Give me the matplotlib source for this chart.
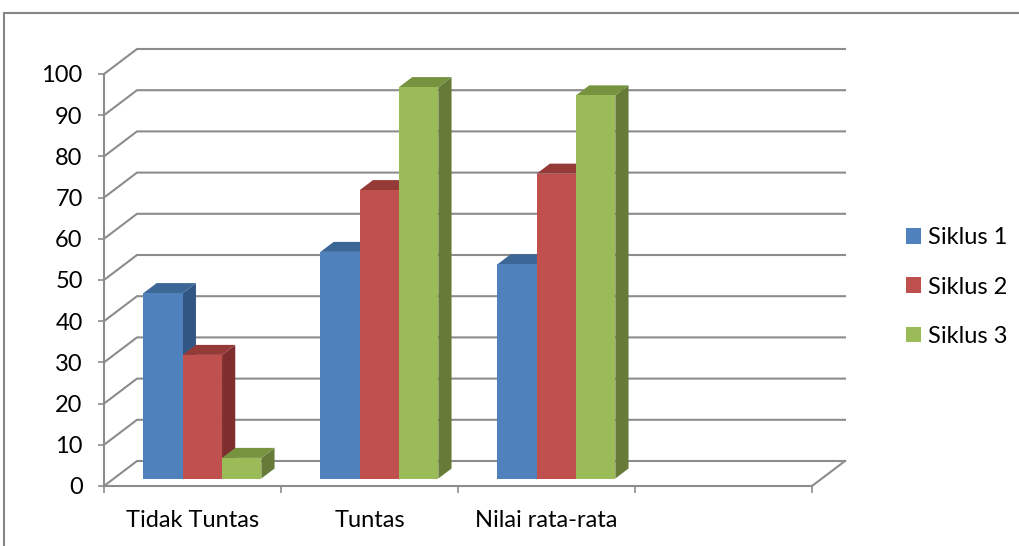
import numpy as np
import matplotlib
matplotlib.use("Agg")
import matplotlib.pyplot as plt
from matplotlib.patches import Polygon, Rectangle

# Calibri-like look (Carlito is derived from Lato)
plt.rcParams["font.family"] = ["Lato", "DejaVu Sans"]

categories = ["Tidak Tuntas", "Tuntas", "Nilai rata-rata", ""]
series = ["Siklus 1", "Siklus 2", "Siklus 3"]
siklus1 = [45, 55, 52]
siklus2 = [30, 70, 74]
siklus3 = [5, 95, 93]
yticks = list(range(0, 101, 10))

FRONT = ["#4F81BD", "#C0504D", "#9BBB59"]
TOP   = ["#3C6696", "#963A38", "#78933F"]
SIDE  = ["#325683", "#7E2F2D", "#667B37"]
GRID  = "#8C8C8C"
FS = 17

W, H = 1020, 546
DX = 33 / 177.0       # profondita' della parete (unita' categoria)
DY = 25 / 4.12        # profondita' della parete (unita' valore)
F0, F1 = 0.3, 0.7     # posizione delle barre in profondita'
BW = 0.222            # larghezza barra

fig = plt.figure(figsize=(W / 100, H / 100), dpi=100, facecolor="white")
ax = fig.add_axes([104 / W, 60 / H, 708 / W, 412 / H])
ax.set_xlim(-0.5, 3.5)
ax.set_ylim(0, 100)
ax.patch.set_alpha(0)

# parete sinistra + parete di fondo (griglia)
xl, xr = -0.5, len(categories) - 0.5
for v in yticks:
    ax.plot([xl, xl + DX, xr + DX], [v, v + DY, v + DY], color=GRID, lw=1.5,
            clip_on=False, zorder=1, solid_joinstyle="miter")
ax.plot([xr, xr + DX], [0, DY], color=GRID, lw=1.5, clip_on=False, zorder=1)

# barre 3D: fronte con ax.bar, fianco e tetto come poligoni
for j, vals in enumerate([siklus1, siklus2, siklus3]):
    xs = np.arange(len(vals)) + (j - 1) * BW - BW / 2
    for x0, v in zip(xs, vals):
        a, b = x0 + F0 * DX, x0 + BW + F0 * DX
        y0, y1 = F0 * DY, v + F0 * DY
        ddx, ddy = (F1 - F0) * DX, (F1 - F0) * DY
        side = Polygon([(b, y0), (b + ddx, y0 + ddy), (b + ddx, y1 + ddy), (b, y1)],
                       closed=True, facecolor=SIDE[j], edgecolor="none",
                       clip_on=False, zorder=3 + 2 * j)
        top = Polygon([(a, y1), (b, y1), (b + ddx, y1 + ddy), (a + ddx, y1 + ddy)],
                      closed=True, facecolor=TOP[j], edgecolor="none",
                      clip_on=False, zorder=3 + 2 * j)
        ax.add_patch(side)
        ax.add_patch(top)
    ax.bar(xs + F0 * DX, vals, width=BW, bottom=F0 * DY, align="edge",
           color=FRONT[j], edgecolor="none", zorder=4 + 2 * j, clip_on=False,
           label=series[j])

for s in ["top", "right"]:
    ax.spines[s].set_visible(False)
for s in ["left", "bottom"]:
    ax.spines[s].set_color(GRID)
    ax.spines[s].set_linewidth(1.5)
    ax.spines[s].set_zorder(2)

ax.set_yticks(yticks)
ax.tick_params(axis="y", direction="out", length=4.3, width=1.2, color=GRID,
               labelsize=FS, pad=11, labelcolor="black")
ax.set_xticks(np.arange(len(categories) + 1) - 0.5)
ax.set_xticklabels([])
ax.tick_params(axis="x", which="major", direction="out", length=5, width=1.2,
               color=GRID)
ax.set_xticks(np.arange(len(categories)), minor=True)
ax.set_xticklabels(categories, minor=True)
ax.tick_params(axis="x", which="minor", length=0, labelsize=FS, pad=17,
               labelcolor="black")

ax.legend(loc="center left", bbox_to_anchor=(906 / W, 259 / H),
          bbox_transform=fig.transFigure, frameon=False, fontsize=FS,
          handlelength=0.64, handleheight=0.64, handletextpad=0.3,
          labelspacing=1.2, borderpad=0, borderaxespad=0)

# bordo dell'area grafico (esce a destra e in basso)
fig.patches.append(Rectangle((4.5 / W, -0.1), 1.2, (H - 13) / H + 0.1,
                             transform=fig.transFigure, fill=False,
                             edgecolor="#868686", lw=1.5))

fig.savefig("out.png", dpi=100, facecolor="white")
